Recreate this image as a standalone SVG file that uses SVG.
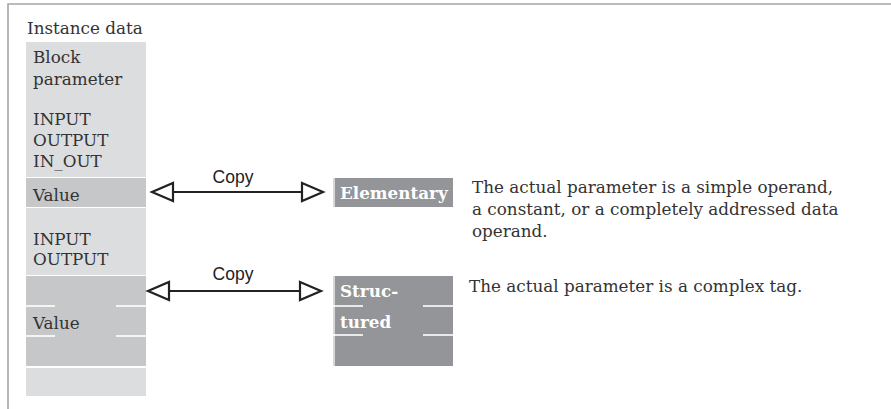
<svg xmlns="http://www.w3.org/2000/svg" width="891" height="409" viewBox="0 0 891 409">
<style>
.t{font-family:"DejaVu Serif","Liberation Serif",serif;font-size:16.8px;fill:#333}
.w{font-family:"DejaVu Serif","Liberation Serif",serif;font-size:16.8px;font-weight:bold;fill:#fff}
.c{font-family:"Liberation Sans","DejaVu Sans",sans-serif;font-size:17.5px;fill:#222;text-anchor:middle}
.lt{fill:#dcdddf}
.dk{fill:#c6c7c9}
.bx{fill:#939598}
.sep{stroke:#fff;stroke-width:1.6}
.con{stroke:#222;stroke-width:2;fill:none}
</style>
<defs>
<marker id="open" markerUnits="userSpaceOnUse" markerWidth="30" markerHeight="30" viewBox="-3 -3 30 26" refX="21" refY="9" orient="auto-start-reverse" overflow="visible">
<path d="M0,0 L21,9 L0,18 Z" fill="#fff" stroke="#222" stroke-width="2.2" stroke-linejoin="miter"/>
</marker>
</defs>
<rect width="891" height="409" fill="#fff"/>
<path d="M8,409 V4 H891" fill="none" stroke="#a5a5a5" stroke-width="1.6"/>

<g id="instance-data">
<text class="t" x="27" y="34">Instance data</text>
<rect class="lt" x="26" y="42" width="120" height="135"/>
<rect class="dk" x="26" y="178" width="120" height="29"/>
<rect class="lt" x="26" y="208" width="120" height="67"/>
<rect class="dk" x="26" y="276" width="120" height="90"/>
<rect class="lt" x="26" y="368" width="120" height="28"/>
<line class="sep" x1="26" y1="306" x2="55" y2="306"/>
<line class="sep" x1="116" y1="306" x2="146" y2="306"/>
<line class="sep" x1="26" y1="336" x2="55" y2="336"/>
<line class="sep" x1="116" y1="336" x2="146" y2="336"/>
<text class="t" x="33" y="63">Block</text>
<text class="t" x="33" y="85">parameter</text>
<text class="t" x="33" y="125">INPUT</text>
<text class="t" x="33" y="146">OUTPUT</text>
<text class="t" x="33" y="167">IN_OUT</text>
<text class="t" x="33" y="201">Value</text>
<text class="t" x="33" y="245">INPUT</text>
<text class="t" x="33" y="265">OUTPUT</text>
<text class="t" x="33" y="329">Value</text>
</g>

<g id="elementary">
<rect x="333" y="178" width="2" height="29" fill="#d6d7d9"/>
<rect class="bx" x="335" y="178" width="118" height="29"/>
<text class="w" x="340" y="199">Elementary</text>
</g>

<g id="structured">
<rect x="333" y="276" width="2" height="90" fill="#d6d7d9"/>
<rect class="bx" x="335" y="276" width="118" height="90"/>
<line class="sep" x1="333" y1="306" x2="363" y2="306"/>
<line class="sep" x1="423" y1="306" x2="453" y2="306"/>
<line class="sep" x1="333" y1="335" x2="363" y2="335"/>
<line class="sep" x1="423" y1="335" x2="453" y2="335"/>
<text class="w" x="340" y="297">Struc-</text>
<text class="w" x="340" y="328">tured</text>
</g>

<g id="desc-elementary">
<text class="t" x="472" y="193">The actual parameter is a simple operand,</text>
<text class="t" x="472" y="215">a constant, or a completely addressed data</text>
<text class="t" x="472" y="237">operand.</text>
</g>

<g id="desc-structured">
<text class="t" x="469" y="292">The actual parameter is a complex tag.</text>
</g>

<g id="connectors">
<line class="con" x1="152" y1="192" x2="323" y2="192" marker-start="url(#open)" marker-end="url(#open)"/>
<text class="c" x="233" y="183">Copy</text>
<line class="con" x1="148" y1="291" x2="321" y2="291" marker-start="url(#open)" marker-end="url(#open)"/>
<text class="c" x="233" y="280">Copy</text>
</g>
</svg>
